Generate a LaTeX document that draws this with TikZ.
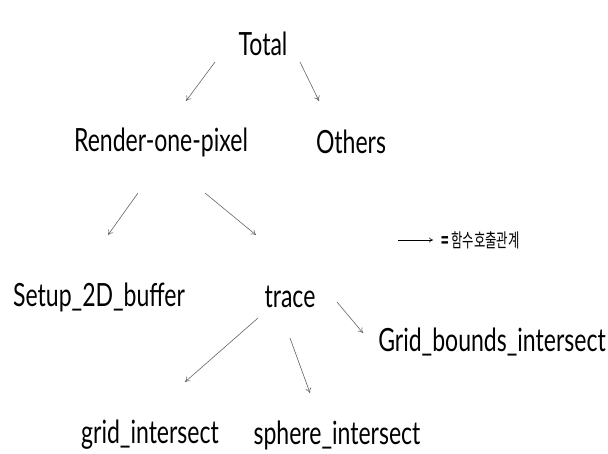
\documentclass[tikz,border=0pt]{standalone}
\usepackage{fontspec}
\newfontfamily\labelfont[FakeStretch=0.72]{Lato}
\newfontfamily\krfont[FakeStretch=0.65]{Noto Sans CJK KR}
\usetikzlibrary{arrows.meta}
\begin{document}
\begin{tikzpicture}[x=1pt,y=-1pt,
  fn/.style={font=\labelfont\fontsize{32}{34}\selectfont, inner sep=0pt, text=black},
  call/.style={draw=black!60, line width=0.6pt, -{To[length=5pt,width=6pt]}}]
  \useasboundingbox (0,0) rectangle (608,453);
  \fill[white] (0,0) rectangle (608,453);

  % call tree nodes
  \node[fn] (total)  at (263,44)  {Total};
  \node[fn] (render) at (161,142) {Render-one-pixel};
  \node[fn] (others) at (351,142) {Others};
  \node[fn] (setup)  at (99,297)  {Setup\_2D\_buffer};
  \node[fn] (trace)  at (290,297) {trace};
  \node[fn] (gbi)    at (492,342) {Grid\_bounds\_intersect};
  \node[fn] (gi)     at (150,435) {grid\_intersect};
  \node[fn] (si)     at (337,435) {sphere\_intersect};

  % call arrows (loosely placed between the labels)
  \coordinate (a1) at (215,62);  \coordinate (b1) at (186,101);
  \coordinate (a2) at (300,62);  \coordinate (b2) at (319,101);
  \coordinate (a3) at (138,193); \coordinate (b3) at (108,235);
  \coordinate (a4) at (205,193); \coordinate (b4) at (256,235);
  \coordinate (a5) at (337,302); \coordinate (b5) at (363,333);
  \coordinate (a6) at (258,318); \coordinate (b6) at (185,382);
  \coordinate (a7) at (290,338); \coordinate (b7) at (310,393);
  \draw[call] (a1) -- (b1);
  \draw[call] (a2) -- (b2);
  \draw[call] (a3) -- (b3);
  \draw[call] (a4) -- (b4);
  \draw[call] (a5) -- (b5);
  \draw[call] (a6) -- (b6);
  \draw[call] (a7) -- (b7);

  % legend
  \coordinate (la) at (398,240);
  \coordinate (lb) at (433,240);
  \draw[black, line width=0.6pt, -{To[length=4pt,width=5pt]}] (la) -- (lb);
  \node[anchor=west, inner sep=0pt, font=\krfont\fontsize{19}{20}\selectfont] (legend) at (441,240) {\textbf{=} 함수호출관계};
\end{tikzpicture}
\end{document}
